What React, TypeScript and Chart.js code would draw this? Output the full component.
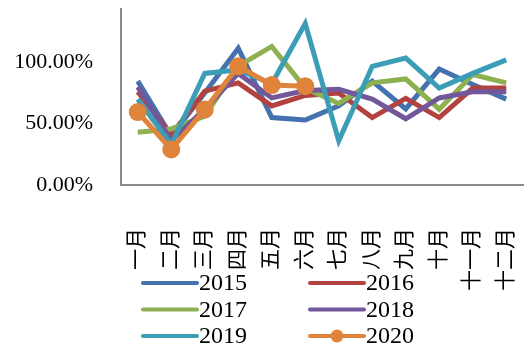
import React, { useEffect, useRef } from "react";
import { Chart, registerables } from "chart.js";

Chart.register(...registerables);

// Month categories along the x axis
const months = ["一月", "二月", "三月", "四月", "五月", "六月", "七月", "八月", "九月", "十月", "十一月", "十二月"];

// Monthly ratios (percent) per year
const y2015 = [84.7, 40, 75, 111.5, 55, 53, 64.5, 84.7, 62, 94.5, 82, 70];
const y2016 = [76, 41, 76.5, 83.3, 64.5, 73, 75, 55, 70.7, 55, 79, 79];
const y2017 = [43, 45.7, 56, 97, 113, 79, 66.5, 83.3, 86.5, 61.8, 90, 83.3];
const y2018 = [80, 36, 62, 91, 71, 77, 78, 70, 54, 71, 76, 76];
const y2019 = [70, 33, 91, 94, 82.5, 131.7, 36, 96.8, 103.5, 79, 91, 102];
const y2020 = [59.5, 29, 61.5, 96.8, 81.5, 80.6];

// Value axis
const yTicks = [0, 50, 100];
const yMin = 0;
const yMax = 143.5;

const seriesLabels = ["2015", "2016", "2017", "2018", "2019", "2020"];
const seriesValues = [y2015, y2016, y2017, y2018, y2019, y2020];
const seriesColors = ["#4472AE", "#B2423F", "#8DB050", "#72589B", "#3C9DB6", "#E0843C"];
const seriesMarkers = [0, 0, 0, 0, 0, 9];

const SERIF = "'Liberation Serif', 'Times New Roman', 'Noto Sans CJK SC', serif";

// Two-column legend drawn under the chart
const gridLegend = {
  id: "gridLegend",
  afterDraw(chart: any) {
    const { ctx, chartArea } = chart;
    const sets = chart.data.datasets;
    ctx.save();
    ctx.font = `24px ${SERIF}`;
    ctx.textBaseline = "middle";
    ctx.textAlign = "left";
    sets.forEach((ds: any, i: number) => {
      const col = i % 2;
      const row = Math.floor(i / 2);
      const x0 = chartArea.left + 22 + col * 167;
      const y = 283 + row * 26.5;
      ctx.strokeStyle = ds.borderColor;
      ctx.lineWidth = 4;
      ctx.lineCap = "round";
      ctx.beginPath();
      ctx.moveTo(x0, y);
      ctx.lineTo(x0 + 54, y);
      ctx.stroke();
      if (ds.pointRadius > 0) {
        ctx.fillStyle = ds.borderColor;
        ctx.beginPath();
        ctx.arc(x0 + 27, y, 6.5, 0, Math.PI * 2);
        ctx.fill();
      }
      ctx.fillStyle = "#000";
      ctx.fillText(ds.label, x0 + 56, y + 1);
    });
    ctx.restore();
  },
};

export default function App() {
  const canvasRef = useRef<HTMLCanvasElement | null>(null);

  useEffect(() => {
    if (!canvasRef.current) return;
    const datasets = seriesLabels.map((label, i) => ({
      label,
      data: seriesValues[i],
      borderColor: seriesColors[i],
      backgroundColor: seriesColors[i],
      pointBackgroundColor: seriesColors[i],
      pointBorderWidth: 0,
      borderWidth: 5,
      pointRadius: seriesMarkers[i],
      pointHoverRadius: seriesMarkers[i],
      fill: false,
      tension: 0,
      order: seriesLabels.length - i,
    }));

    const chart = new Chart(canvasRef.current, {
      type: "line",
      data: { labels: months, datasets },
      plugins: [gridLegend],
      options: {
        responsive: false,
        animation: false,
        layout: { padding: { left: 13, right: 2, top: 7, bottom: 55 } },
        plugins: { legend: { display: false }, tooltip: { enabled: false } },
        scales: {
          x: {
            offset: true,
            grid: { display: false, drawTicks: false },
            border: { display: true, color: "#8a8a8a", width: 2 },
            afterFit: (axis: any) => {
              axis.height = 113;
              axis.paddingLeft = 0;
              axis.paddingRight = 0;
            },
            ticks: {
              autoSkip: false,
              maxRotation: 90,
              minRotation: 90,
              padding: 43,
              color: "#000",
              font: { family: SERIF, size: 21 },
            },
          },
          y: {
            min: yMin,
            max: yMax,
            grid: { display: false, drawTicks: false },
            border: { display: true, color: "#8a8a8a", width: 2 },
            afterBuildTicks: (axis: any) => {
              axis.ticks = yTicks.map((v) => ({ value: v }));
            },
            afterFit: (axis: any) => {
              axis.width = 108;
              axis.paddingTop = 0;
              axis.paddingBottom = 0;
            },
            ticks: {
              padding: 28,
              color: "#000",
              font: { family: SERIF, size: 22 },
              callback: (v: any) => Number(v).toFixed(2) + "%",
            },
          },
        },
      },
    });
    return () => chart.destroy();
  }, []);

  return (
    <div style={{ position: "absolute", left: 0, top: 0, width: 532, height: 353, background: "#fff" }}>
      <canvas ref={canvasRef} width={532} height={353} />
    </div>
  );
}
